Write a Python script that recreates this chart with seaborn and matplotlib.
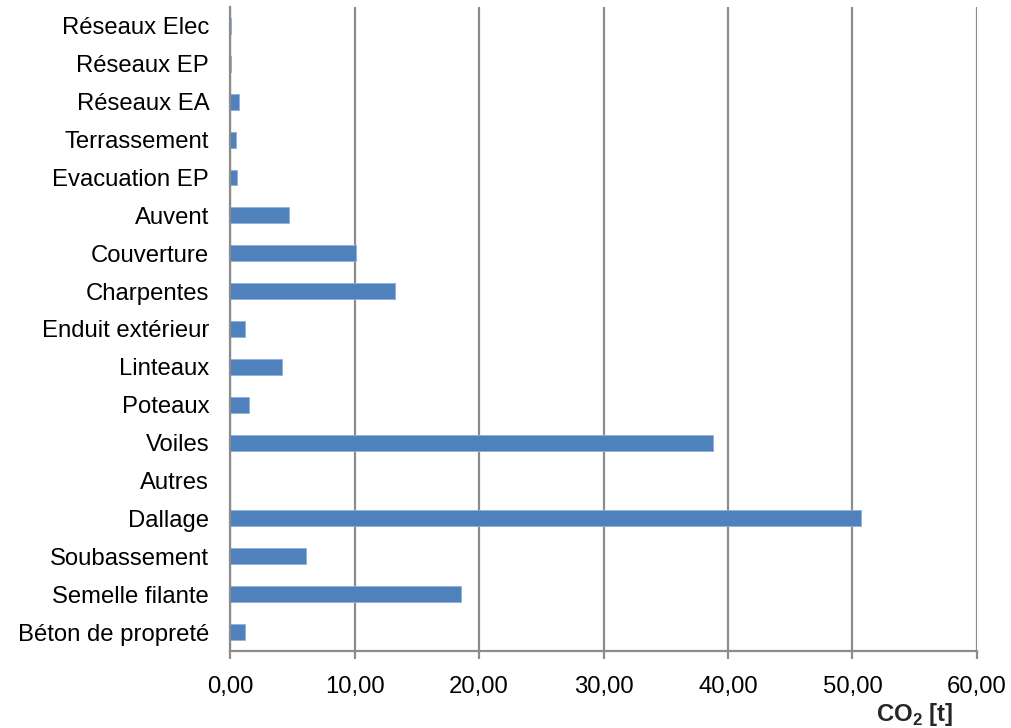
import matplotlib
matplotlib.use("Agg")
import matplotlib.pyplot as plt
import seaborn as sns
import pandas as pd
from matplotlib.ticker import FuncFormatter

# CO2 per building element (top to bottom)
postes = [
    "Réseaux Elec", "Réseaux EP", "Réseaux EA", "Terrassement", "Evacuation EP",
    "Auvent", "Couverture", "Charpentes", "Enduit extérieur", "Linteaux",
    "Poteaux", "Voiles", "Autres", "Dallage", "Soubassement",
    "Semelle filante", "Béton de propreté",
]
co2_t = [
    0.05, 0.05, 0.76, 0.50, 0.60,
    4.71, 10.15, 13.23, 1.18, 4.20,
    1.53, 38.80, 0.0, 50.70, 6.10,
    18.55, 1.23,
]
x_ticks = [0, 10, 20, 30, 40, 50, 60]

df = pd.DataFrame({"poste": postes, "co2": co2_t})

sns.set_style("white")
plt.rcParams["font.family"] = ["Liberation Sans", "DejaVu Sans"]
plt.rcParams["mathtext.fontset"] = "custom"
plt.rcParams["mathtext.bf"] = "Liberation Sans:bold"
plt.rcParams["mathtext.rm"] = "Liberation Sans"

grey = "#8c8c8c"
fs = 17.2

fig = plt.figure(figsize=(10.12, 7.28), dpi=100)
ax = fig.add_axes([0.2273, 0.1058, 0.7381, 0.8846])

sns.barplot(data=df, x="co2", y="poste", orient="h", color="#4f81bd",
            width=0.42, edgecolor="#8fb0d8", linewidth=0.6, ax=ax,
            saturation=1)

ax.set_xlim(0, 60)
ax.set_xticks(x_ticks)
ax.xaxis.set_major_formatter(FuncFormatter(lambda v, p: f"{v:.2f}".replace(".", ",")))
ax.set_axisbelow(True)
ax.grid(axis="x", color=grey, linewidth=1.6)
ax.grid(axis="y", visible=False)

for side in ["top", "right"]:
    ax.spines[side].set_visible(False)
for side in ["left", "bottom"]:
    ax.spines[side].set_color(grey)
    ax.spines[side].set_linewidth(1.6)

ax.tick_params(axis="x", length=6, width=1.6, color=grey, pad=12,
               labelsize=fs, labelcolor="black", bottom=True, direction="out")
ax.tick_params(axis="y", length=0, pad=15, labelsize=fs, labelcolor="black")
ax.set_xlabel("")
ax.set_ylabel("")

fig.text(915 / 1012, 1 - 714 / 728, r"CO$_\mathbf{2}$ [t]", ha="center", va="center",
         fontsize=fs, fontweight="bold")

fig.savefig("out.png", dpi=100)
